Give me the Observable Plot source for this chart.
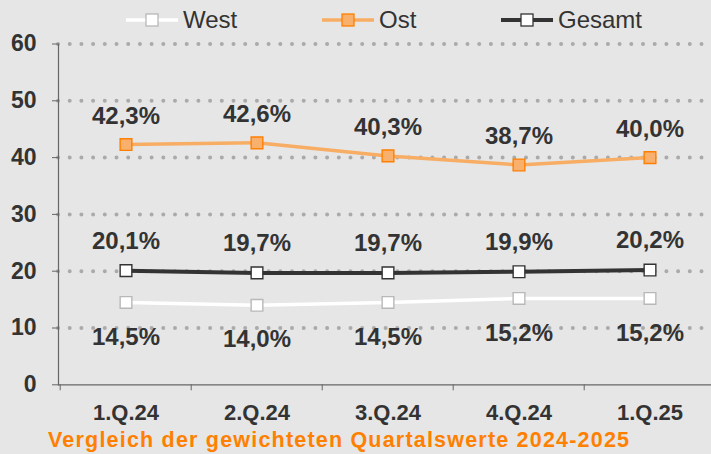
<!DOCTYPE html>
<html>
<head>
<meta charset="utf-8">
<script src="https://cdn.jsdelivr.net/npm/d3@7"></script>
<script src="https://cdn.jsdelivr.net/npm/@observablehq/plot@0.6"></script>
<style>
  html, body { margin: 0; padding: 0; background: #e6e6e6; }
  body { width: 711px; height: 454px; overflow: hidden; font-family: "Liberation Sans", Arial, sans-serif; }
  #legend { position: relative; height: 34px; }
  .item { position: absolute; top: 0; height: 34px; }
  .item svg { position: absolute; top: 13px; }
  .item span { position: absolute; top: 8px; font-size: 24px; line-height: 24px; color: #333; white-space: nowrap; }
  #chart svg { display: block; }
  #caption { position: absolute; left: 48px; top: 428px; font-size: 21.5px; letter-spacing: 1.2px; line-height: 24px; font-weight: bold; color: #ff8000; white-space: nowrap; }
</style>
</head>
<body>
<div id="legend"></div>
<div id="chart"></div>
<div id="caption">Vergleich der gewichteten Quartalswerte 2024-2025</div>
<script>
const quarters = ["1.Q.24", "2.Q.24", "3.Q.24", "4.Q.24", "1.Q.25"];
const west = [14.5, 14.0, 14.5, 15.2, 15.2];
const ost = [42.3, 42.6, 40.3, 38.7, 40.0];
const gesamt = [20.1, 19.7, 19.7, 19.9, 20.2];
const yTicks = [0, 10, 20, 30, 40, 50, 60];
const gridTicks = [10, 20, 30, 40, 50, 60];

const seriesStyle = {
  West:   {line: "#ffffff", width: 3.5, fill: "#ffffff", stroke: "#b8b8b8", labelDy: 34.5},
  Ost:    {line: "#f8ad65", width: 3.5, fill: "#f8b06c", stroke: "#ff7f00", labelDy: -28.5},
  Gesamt: {line: "#333333", width: 4,   fill: "#ffffff", stroke: "#333333", labelDy: -29.5}
};
const series = {West: west, Ost: ost, Gesamt: gesamt};

// legend
const legendPos = {West: 126, Ost: 322, Gesamt: 501};
const legend = document.getElementById("legend");
for (const name of ["West", "Ost", "Gesamt"]) {
  const s = seriesStyle[name];
  const item = document.createElement("div");
  item.className = "item";
  item.style.left = legendPos[name] + "px";
  item.innerHTML =
    `<svg width="52" height="14"><line x1="0" x2="52" y1="7" y2="7" stroke="${s.line}" stroke-width="${s.width}"/>` +
    `<rect x="20" y="1" width="12" height="12" fill="${s.fill}" stroke="${s.stroke}" stroke-width="1.3"/></svg>` +
    `<span style="left:57px">${name}</span>`;
  legend.appendChild(item);
}

const rows = [];
for (const name of ["West", "Ost", "Gesamt"]) {
  series[name].forEach((v, i) => rows.push({series: name, q: quarters[i], v}));
}
const fmt = v => v.toFixed(1).replace(".", ",") + "%";

const width = 711, marginLeft = 58, marginRight = -5;
const bw = (width - marginLeft - marginRight) / quarters.length;

const marks = [
  Plot.ruleY(gridTicks, {stroke: "#aaaaaa", strokeWidth: 4, strokeLinecap: "round", strokeDasharray: "0,11.7"}),
  Plot.ruleY([0], {stroke: "#666", strokeWidth: 1.2}),
  Plot.frame({anchor: "left", stroke: "#666", strokeWidth: 1.2}),
  Plot.axisY({ticks: yTicks, tickSize: 6, tickPadding: 16, stroke: "#666", fontSize: 23, fontWeight: "bold", fill: "#333", tickFormat: d => d}),
  Plot.axisX({tickSize: 6, text: null, dx: -bw / 2, stroke: "#666"}),
  Plot.axisX({tickSize: 0, tickPadding: 20, fontSize: 22, fontWeight: "bold", fill: "#333"})
];
for (const name of ["West", "Ost", "Gesamt"]) {
  const s = seriesStyle[name];
  const d = rows.filter(r => r.series === name);
  marks.push(Plot.line(d, {x: "q", y: "v", stroke: s.line, strokeWidth: s.width}));
}
for (const name of ["West", "Ost", "Gesamt"]) {
  const s = seriesStyle[name];
  const d = rows.filter(r => r.series === name);
  marks.push(Plot.dot(d, {x: "q", y: "v", symbol: "square", r: 6.6, fill: s.fill, stroke: s.stroke, strokeWidth: 1.4}));
  marks.push(Plot.text(d, {x: "q", y: "v", text: r => fmt(r.v), dy: s.labelDy, fontSize: 24, fontWeight: "bold", fill: "#333"}));
}

const chart = Plot.plot({
  width, height: 394,
  marginLeft, marginRight, marginTop: 9.5, marginBottom: 43.7,
  style: {background: "transparent", fontFamily: "'Liberation Sans', Arial, sans-serif", overflow: "visible"},
  x: {type: "band", domain: quarters, padding: 0, label: null},
  y: {domain: [0, 60], label: null},
  marks
});
document.getElementById("chart").appendChild(chart);
</script>
</body>
</html>
